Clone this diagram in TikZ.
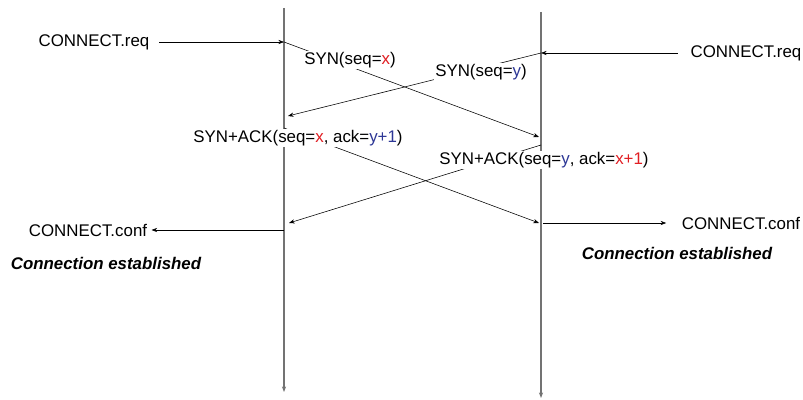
\documentclass[tikz,border=0pt]{standalone}
\usepackage{fontspec}
\setmainfont{Liberation Sans}
\usetikzlibrary{arrows.meta}
\definecolor{seqred}{RGB}{225,30,35}
\definecolor{seqblue}{RGB}{45,55,150}

\begin{document}
\begin{tikzpicture}[x=0.025cm, y=-0.025cm, >={Stealth[length=4pt,width=3pt]},
  every node/.style={font=\fontsize{12}{14}\selectfont, inner sep=1pt},
  msg/.style={fill=white},
  note/.style={font=\fontsize{12}{14}\selectfont\bfseries\itshape},
  timeline/.style={draw=black!55, line width=1.1pt}]
\useasboundingbox (0,0) rectangle (803,400);
% time lines
\coordinate (ltop) at (284,8);
\coordinate (lbot) at (284,392);
\coordinate (rtop) at (541,12);
\coordinate (rbot) at (541,398);
\draw[timeline, ->] (ltop) -- (lbot);
\draw[timeline, ->] (rtop) -- (rbot);
% points on the time lines
\coordinate (lreq) at (284,42);
\coordinate (rsynx) at (539,137);
\coordinate (rreq) at (541,53);
\coordinate (lsyny) at (288,116);
\coordinate (lack) at (284,128);
\coordinate (rackx) at (539,223);
\coordinate (rack) at (541,145);
\coordinate (lacky) at (289,223);
\coordinate (lconf) at (284,230);
\coordinate (rconf) at (543,223);
% primitives
\node (lreqtxt) at (94,42) {CONNECT.req};
\node (rreqtxt) at (746,53) {CONNECT.req};
\node (lconftxt) at (88,230) {CONNECT.conf};
\node (rconftxt) at (741,223) {CONNECT.conf};
\node[note] (lest) at (106,263) {Connection established};
\node[note] (rest) at (677,253) {Connection established};
\draw[->, shorten <=6pt] (lreqtxt) -- (lreq);
\draw[->, shorten <=8pt] (rreqtxt) -- (rreq);
\draw[->, shorten >=2pt] (lconf) -- (lconftxt);
\draw[->, shorten >=10pt] (rconf) -- (rconftxt);
% segments
\draw[->] (lreq) -- (rsynx);
\draw[->] (rreq) -- (lsyny);
\draw[->] (lack) -- (rackx);
\draw[->] (rack) -- (lacky);
\node[msg] (synx) at (350,60) {SYN(seq=\textcolor{seqred}{x})};
\node[msg] (syny) at (481,72) {SYN(seq=\textcolor{seqblue}{y})};
\node[msg] (ackx) at (298,138) {SYN+ACK(seq=\textcolor{seqred}{x}, ack=\textcolor{seqblue}{y+1})};
\node[msg] (acky) at (544,160) {SYN+ACK(seq=\textcolor{seqblue}{y}, ack=\textcolor{seqred}{x+1})};
\end{tikzpicture}
\end{document}
